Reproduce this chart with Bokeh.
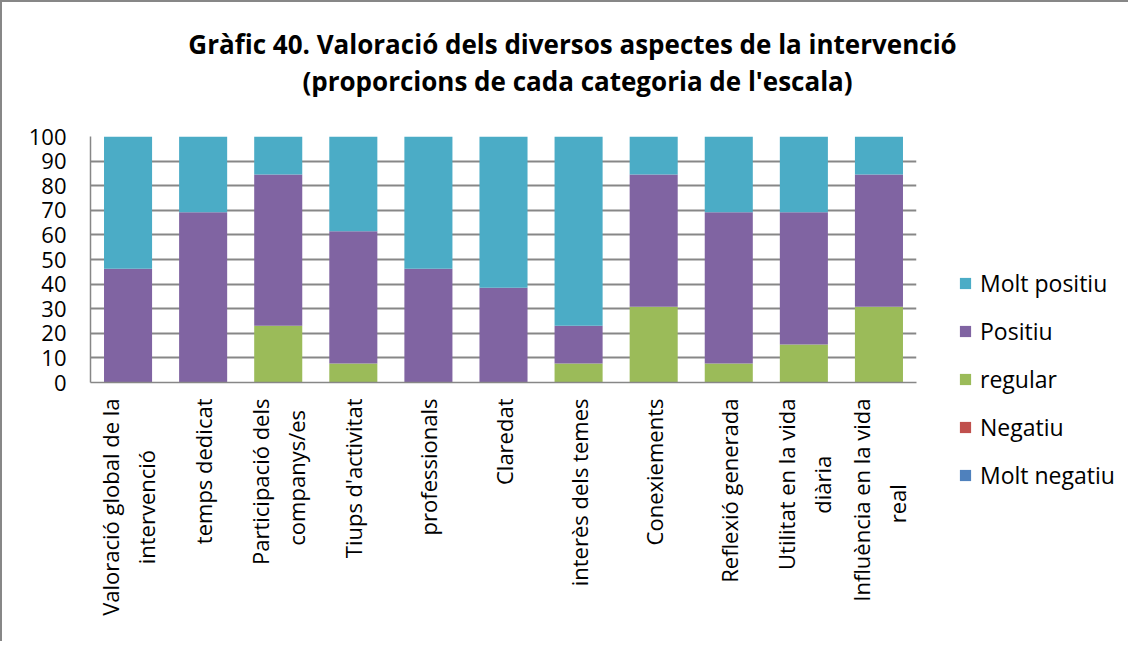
import math
from bokeh.plotting import figure
from bokeh.layouts import column, row
from bokeh.models import (Range1d, FixedTicker, Legend, LegendItem, Label,
                          ColumnDataSource)
from bokeh.embed import file_html
from bokeh.resources import INLINE

categories = [
    "Valoració global de la\nintervenció",
    "temps dedicat",
    "Participació dels\ncompanys/es",
    "Tiups d'activitat",
    "professionals",
    "Claredat",
    "interès dels temes",
    "Conexiements",
    "Reflexió generada",
    "Utilitat en la vida\ndiària",
    "Influència en la vida\nreal",
]
series_names = ["Molt negatiu", "Negatiu", "regular", "Positiu", "Molt positiu"]
molt_negatiu = [0, 0, 0, 0, 0, 0, 0, 0, 0, 0, 0]
negatiu = [0, 0, 0, 0, 0, 0, 0, 0, 0, 0, 0]
regular = [0, 0, 23.1, 7.7, 0, 0, 7.7, 30.8, 7.7, 15.4, 30.8]
positiu = [46.2, 69.2, 61.5, 53.8, 46.2, 38.5, 15.4, 53.8, 61.5, 53.8, 53.8]
molt_positiu = [53.8, 30.8, 15.4, 38.5, 53.8, 61.5, 76.9, 15.4, 30.8, 30.8, 15.4]
y_ticks = [0, 10, 20, 30, 40, 50, 60, 70, 80, 90, 100]
title_lines = ["Gràfic 40. Valoració dels diversos aspectes de la intervenció",
               "(proporcions de cada categoria de l'escala)"]
colors = ["#4F81BD", "#C0504D", "#9BBB59", "#8064A2", "#4BACC6"]

FONT = "Open Sans"
GRID = "#878787"
TOTAL_W, TOTAL_H = 1126, 639
TITLE_H = 119


def _approx_width(s):
    # rough advance widths (em) for Open Sans, used only to centre wrapped lines
    narrow = set("iljtfr'.,")
    wide = set("mwMW")
    return sum(0.27 if c in narrow else 0.9 if c in wide else
               0.26 if c == " " else 0.57 for c in s)


def centred(label):
    # Bokeh right-aligns the lines of a vertical tick label; pad the shorter
    # lines with no-break spaces so that they look centred, as in the reference
    lines = label.split("\n")
    if len(lines) == 1:
        return label
    wmax = max(_approx_width(l) for l in lines)
    out = []
    for l in lines:
        n = int(round((wmax - _approx_width(l)) / 2 / 0.26))
        out.append(l + "\u00a0" * n)
    return "\n".join(out)


# ---------------- title strip ----------------
pt = figure(width=TOTAL_W, height=TITLE_H,
            x_range=Range1d(0, TOTAL_W), y_range=Range1d(TITLE_H, 0),
            min_border=0, x_axis_type=None, y_axis_type=None,
            output_backend="svg", toolbar_location=None, tools="")
pt.outline_line_color = None
pt.grid.visible = False
for line, yv, xv in zip(title_lines, [41, 78], [570, 575]):
    pt.add_layout(Label(x=xv, y=yv, text=line, text_align="center",
                        text_baseline="middle", text_font=FONT,
                        text_font_style="bold", text_font_size="26px",
                        text_color="black"))

# ---------------- main chart ----------------
xs = list(range(1, len(categories) + 1))
keys = ["mn", "ng", "rg", "ps", "mp"]
source = ColumnDataSource(dict(x=xs, mn=molt_negatiu, ng=negatiu, rg=regular,
                               ps=positiu, mp=molt_positiu))

p = figure(frame_width=826, frame_height=246,
           min_border_left=88, min_border_top=15, min_border_right=14,
           min_border_bottom=TOTAL_H - TITLE_H - 15 - 246,
           x_range=Range1d(0.5, len(categories) + 0.5), y_range=Range1d(0, 100),
           output_backend="svg", toolbar_location=None, tools="")
p.outline_line_color = None

renderers = p.vbar_stack(keys, x="x", width=0.64, source=source,
                         fill_color=colors, line_color=None)

p.yaxis.ticker = FixedTicker(ticks=y_ticks)
p.yaxis.major_tick_out = 0
p.yaxis.major_tick_in = 0
p.yaxis.minor_tick_out = 0
p.yaxis.minor_tick_in = 0
p.yaxis.axis_line_color = GRID
p.yaxis.axis_line_width = 1.5
p.yaxis.major_label_text_font = FONT
p.yaxis.major_label_text_font_size = "22px"
p.yaxis.major_label_text_color = "black"
p.yaxis.major_label_standoff = 24

p.xaxis.ticker = FixedTicker(ticks=xs)
p.xaxis.major_label_overrides = {x: centred(c) for x, c in zip(xs, categories)}
p.xaxis.major_label_orientation = math.pi / 2
p.xaxis.major_tick_out = 0
p.xaxis.major_tick_in = 0
p.xaxis.minor_tick_out = 0
p.xaxis.axis_line_color = GRID
p.xaxis.axis_line_width = 1.5
p.xaxis.major_label_text_font = FONT
p.xaxis.major_label_text_font_size = "22px"
p.xaxis.major_label_text_color = "black"
p.xaxis.major_label_standoff = 16

p.xgrid.grid_line_color = None
p.ygrid.grid_line_color = GRID
p.ygrid.grid_line_width = 2

# ---------------- legend panel ----------------
LEG_W = TOTAL_W - (88 + 826 + 14)
pl = figure(width=LEG_W, height=TOTAL_H - TITLE_H,
            min_border_left=28, min_border_top=146, min_border_right=0,
            min_border_bottom=0,
            x_range=Range1d(0.5, len(categories) + 0.5), y_range=Range1d(0, 100),
            x_axis_type=None, y_axis_type=None,
            output_backend="svg", toolbar_location=None, tools="")
pl.outline_line_color = None
pl.grid.visible = False
leg_renderers = pl.vbar_stack(keys, x="x", width=0.64, source=source,
                              fill_color=colors, line_color=None)
for r in leg_renderers:
    r.visible = False
items = [LegendItem(label=n, renderers=[r])
         for n, r in zip(series_names, leg_renderers)][::-1]
legend = Legend(items=items, location="top_left")
legend.border_line_color = None
legend.background_fill_alpha = 0
legend.inactive_fill_alpha = 0
legend.padding = 0
legend.margin = 0
legend.glyph_width = 14
legend.glyph_height = 14
legend.label_standoff = 8
legend.spacing = 16
legend.label_text_font = FONT
legend.label_text_font_size = "23px"
legend.label_text_color = "black"
pl.add_layout(legend)

# the legend plot is wrapped in its own column so that its borders are not
# synchronised with those of the chart
layout = column(pt, row(p, column(pl)),
                styles={"border-left": "2px solid #878787",
                        "border-top": "2px solid #878787"})
open("out.html", "w").write(file_html(layout, INLINE))
